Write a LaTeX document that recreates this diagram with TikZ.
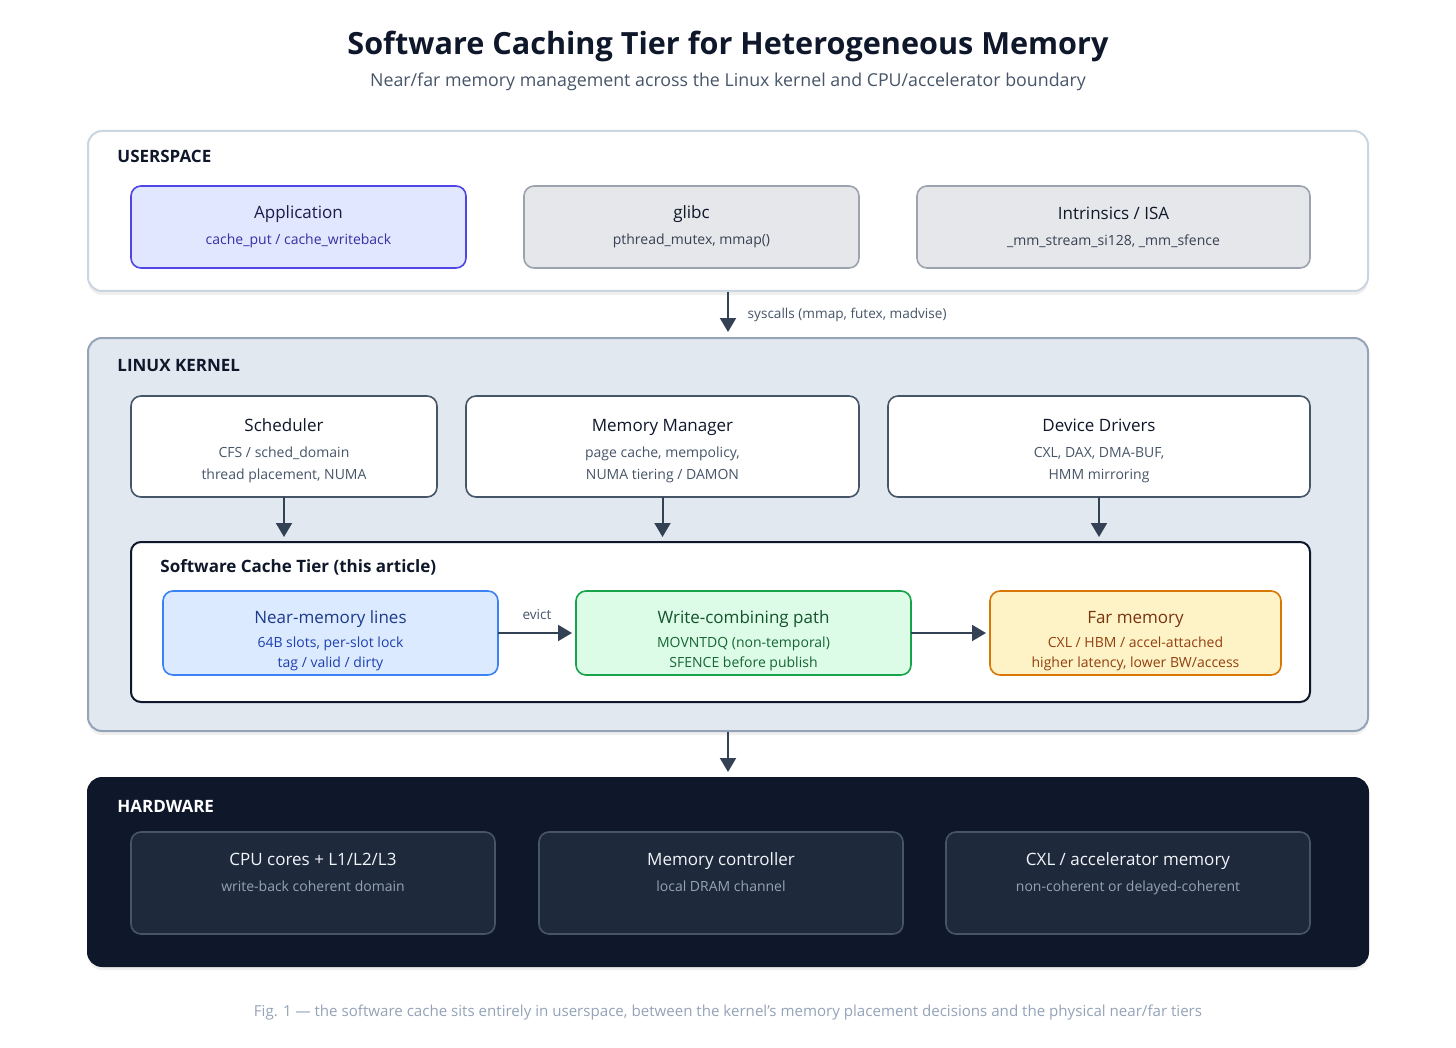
\documentclass[tikz,border=0pt]{standalone}
\usepackage{fontspec}
\setmainfont{Open Sans}
\usetikzlibrary{arrows.meta,positioning,shadows}
\definecolor{hmink}{HTML}{0F172A}
\definecolor{hmslate}{HTML}{475569}
\definecolor{hmgrey}{HTML}{94A3B8}
\definecolor{hmarrow}{HTML}{334155}
\definecolor{hmuserline}{HTML}{CBD5E1}
\definecolor{hmkernel}{HTML}{E2E8F0}
\definecolor{hmappfill}{HTML}{E0E7FF}
\definecolor{hmappline}{HTML}{4F46E5}
\definecolor{hmappink}{HTML}{1E1B4B}
\definecolor{hmappsub}{HTML}{3730A3}
\definecolor{hmlibfill}{HTML}{E5E7EB}
\definecolor{hmlibline}{HTML}{9CA3AF}
\definecolor{hmlibsub}{HTML}{374151}
\definecolor{hmnearfill}{HTML}{DBEAFE}
\definecolor{hmnearline}{HTML}{3B82F6}
\definecolor{hmnearink}{HTML}{1E3A8A}
\definecolor{hmnearsub}{HTML}{1E40AF}
\definecolor{hmwcfill}{HTML}{DCFCE7}
\definecolor{hmwcline}{HTML}{16A34A}
\definecolor{hmwcink}{HTML}{14532D}
\definecolor{hmwcsub}{HTML}{166534}
\definecolor{hmfarfill}{HTML}{FEF3C7}
\definecolor{hmfarline}{HTML}{D97706}
\definecolor{hmfarink}{HTML}{78350F}
\definecolor{hmfarsub}{HTML}{92400E}
\definecolor{hmhwfill}{HTML}{1E293B}
\definecolor{hmhwink}{HTML}{F1F5F9}
\newcommand\hmsub{\fontsize{7}{11}\selectfont}
\newcommand\hmtop[1]{\rule{0pt}{#1}}
\tikzset{
  hm text/.style={font=\fontsize{8.5}{11}\selectfont, text=hmink},
  hm title/.style={font=\fontsize{15.3}{18}\selectfont\bfseries, text=hmink},
  hm subtitle/.style={font=\fontsize{8.9}{11}\selectfont, text=hmslate},
  hm caption/.style={font=\fontsize{7.55}{9}\selectfont, text=hmgrey},
  hm panel/.style={rounded corners=7pt, line width=1pt,
    drop shadow={opacity=0.12, shadow xshift=0pt, shadow yshift=-2pt}},
  hm section/.style={font=\fontsize{8.5}{10}\selectfont\bfseries, text=hmink,
    anchor=west, inner sep=0pt},
  hm box/.style={rounded corners=5pt, line width=0.8pt, align=center,
    font=\fontsize{8.5}{11}\selectfont, inner sep=0pt, outer sep=0pt},
  app box/.style={hm box, fill=hmappfill, draw=hmappline, text=hmappink},
  lib box/.style={hm box, fill=hmlibfill, draw=hmlibline, text=hmink},
  kernel box/.style={hm box, fill=white, draw=hmslate, text=hmink},
  tier box/.style={hm box, font=\fontsize{8.5}{10}\selectfont},
  near box/.style={tier box, fill=hmnearfill, draw=hmnearline, text=hmnearink},
  wc box/.style={tier box, fill=hmwcfill, draw=hmwcline, text=hmwcink},
  far box/.style={tier box, fill=hmfarfill, draw=hmfarline, text=hmfarink},
  hw box/.style={hm box, fill=hmhwfill, draw=hmslate, text=hmhwink},
  hm arrow/.style={-{Triangle[length=7pt,width=8pt]}, line width=1pt, draw=hmarrow},
  hm note/.style={font=\fontsize{6.8}{8}\selectfont, text=hmslate}
}

\begin{document}
\begin{tikzpicture}[hm text, x=0.5pt, y=-0.5pt]
  \useasboundingbox[fill=white] (0,0) rectangle (1456,1048);

  \node[hm title] (title) at (728,46) {Software Caching Tier for Heterogeneous Memory};
  \node[hm subtitle] (subtitle) at (728,82) {Near/far memory management across the Linux kernel and CPU/accelerator boundary};

  % userspace
  \node[hm panel, fill=white, draw=hmuserline, minimum width=640pt, minimum height=80pt] (user) at (728,211) {};
  \node[hm section] (userlbl) at (117,156) {USERSPACE};
  \node[app box, minimum width=167.5pt, minimum height=41pt] (app) at (298.5,227)
    {Application\\[2pt]{\hmsub\color{hmappsub}cache\_put / cache\_writeback}};
  \node[lib box, minimum width=167.5pt, minimum height=41pt, right=29pt of app] (glibc)
    {glibc\\[2pt]{\hmsub\color{hmlibsub}pthread\_mutex, mmap()}};
  \node[lib box, minimum width=196.5pt, minimum height=41pt, right=29pt of glibc] (isa)
    {Intrinsics / ISA\\[2pt]{\hmsub\color{hmlibsub}\_mm\_stream\_si128, \_mm\_sfence}};

  % kernel
  \node[hm panel, fill=hmkernel, draw=hmgrey, minimum width=640pt, minimum height=196.5pt] (kernel) at (728,534.5) {};
  \node[hm section] (kernellbl) at (117,366) {LINUX KERNEL};
  \node[kernel box, minimum width=153pt, minimum height=50.5pt] (sched) at (284,446.5)
    {\hmtop{10.5pt}Scheduler\\[2pt]{\hmsub\color{hmslate}CFS / sched\_domain}\\{\hmsub\color{hmslate}thread placement, NUMA}};
  \node[kernel box, minimum width=196.5pt, minimum height=50.5pt, right=14.5pt of sched] (mm)
    {\hmtop{10.5pt}Memory Manager\\[2pt]{\hmsub\color{hmslate}page cache, mempolicy,}\\{\hmsub\color{hmslate}NUMA tiering / DAMON}};
  \node[kernel box, minimum width=211pt, minimum height=50.5pt, right=14.5pt of mm] (drv)
    {\hmtop{10.5pt}Device Drivers\\[2pt]{\hmsub\color{hmslate}CXL, DAX, DMA-BUF,}\\{\hmsub\color{hmslate}HMM mirroring}};

  % software cache tier
  \node[hm box, fill=white, draw=hmink, line width=1pt, minimum width=589.5pt, minimum height=80pt] (tier) at (720.5,622) {};
  \node[hm section] (tierlbl) at (160,567) {Software Cache Tier (this article)};
  \node[near box, minimum width=167.5pt, minimum height=42pt] (near) at (330.5,633)
    {\hmtop{14.5pt}Near-memory lines\\[2pt]{\hmsub\color{hmnearsub}64B slots, per-slot lock}\\{\hmsub\color{hmnearsub}tag / valid / dirty}};
  \node[wc box, minimum width=167.5pt, minimum height=42pt, right=39pt of near] (wc)
    {\hmtop{14.5pt}Write-combining path\\[2pt]{\hmsub\color{hmwcsub}MOVNTDQ (non-temporal)}\\{\hmsub\color{hmwcsub}SFENCE before publish}};
  \node[far box, minimum width=145.5pt, minimum height=42pt, right=39.5pt of wc] (far)
    {\hmtop{14.5pt}Far memory\\[2pt]{\hmsub\color{hmfarsub}CXL / HBM / accel-attached}\\{\hmsub\color{hmfarsub}higher latency, lower BW/access}};

  % hardware
  \node[hm panel, fill=hmink, draw=hmink, minimum width=640pt, minimum height=94pt] (hw) at (728,872) {};
  \node[hm section, text=white] (hwlbl) at (117,806) {HARDWARE};
  \node[hw box, minimum width=182pt, minimum height=51pt] (cpu) at (313,883)
    {CPU cores + L1/L2/L3\\[2pt]{\hmsub\color{hmgrey}write-back coherent domain}\\{\hmsub\mbox{}}};
  \node[hw box, minimum width=182pt, minimum height=51pt, right=22pt of cpu] (mc)
    {Memory controller\\[2pt]{\hmsub\color{hmgrey}local DRAM channel}\\{\hmsub\mbox{}}};
  \node[hw box, minimum width=182pt, minimum height=51pt, right=21.5pt of mc] (cxl)
    {CXL / accelerator memory\\[2pt]{\hmsub\color{hmgrey}non-coherent or delayed-coherent}\\{\hmsub\mbox{}}};

  % connectors
  \draw[hm arrow, shorten >=2.5pt] (user) -- (kernel)
    node[hm note, midway, right=6pt] (syslbl) {syscalls (mmap, futex, madvise)};
  \draw[hm arrow, shorten >=2.5pt] (sched.south) -- (sched.south |- tier.north);
  \draw[hm arrow, shorten >=2.5pt] (mm.south) -- (mm.south |- tier.north);
  \draw[hm arrow, shorten >=2.5pt] (drv.south) -- (drv.south |- tier.north);
  \draw[hm arrow, shorten >=2pt] (near) -- (wc)
    node[hm note, midway, above=3pt] (evictlbl) {evict};
  \draw[hm arrow, shorten >=2pt] (wc) -- (far);
  \draw[hm arrow, shorten >=2.5pt] (kernel) -- (hw);

  \node[hm caption] (caption) at (728,1013) {Fig. 1 — the software cache sits entirely in userspace, between the kernel's memory placement decisions and the physical near/far tiers};
\end{tikzpicture}
\end{document}
